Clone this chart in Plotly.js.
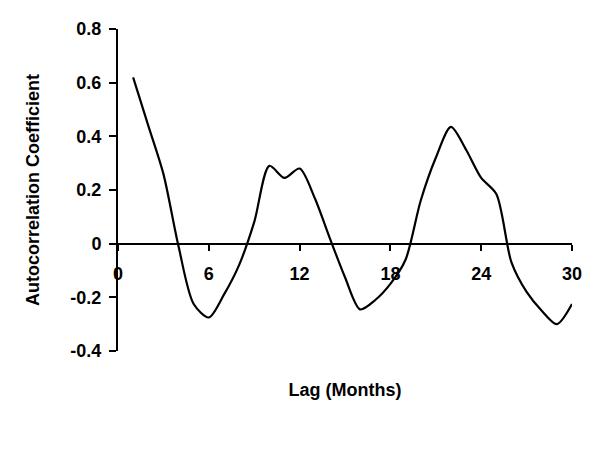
<!DOCTYPE html>
<html>
<head>
<meta charset="utf-8">
<script src="https://cdn.plot.ly/plotly-3.0.1.min.js"></script>
<style>html,body{margin:0;padding:0;background:#fff;}#chart{width:600px;height:450px;}</style>
</head>
<body>
<div id="chart"></div>
<script>
const lags = [1,2,3,4,5,6,7,8,9,10,11,12,13,14,15,16,17,18,19,20,21,22,23,24,25,26,27,28,29,30];
const acf = [0.62,0.44,0.26,-0.01,-0.225,-0.275,-0.19,-0.08,0.08,0.29,0.245,0.28,0.17,0.02,-0.125,-0.245,-0.21,-0.15,-0.06,0.16,0.32,0.435,0.35,0.245,0.185,-0.07,-0.18,-0.25,-0.30,-0.225];
const xTickVals = [0,6,12,18,24,30];
const xTickText = ['0','6','12','18','24','30'];
const yTickVals = [-0.4,-0.2,0,0.2,0.4,0.6,0.8];
const yTickText = ['-0.4','-0.2','0','0.2','0.4','0.6','0.8'];

const fnt = {family:'Arial, "Liberation Sans", sans-serif', size:18, color:'#000', weight:'bold'};

const trace = {
  x: lags, y: acf, type:'scatter', mode:'lines',
  line:{color:'#000', width:2.2, shape:'spline', smoothing:0.8},
  hoverinfo:'skip', showlegend:false
};

const layout = {
  width:600, height:450,
  margin:{l:118, r:28, t:29, b:99},
  paper_bgcolor:'#fff', plot_bgcolor:'#fff',
  showlegend:false,
  xaxis:{
    range:[0,30], tickvals:xTickVals, ticktext:xTickText,
    showgrid:false, zeroline:false, showline:true, linecolor:'#000', linewidth:2,
    ticks:'outside', ticklen:6, tickwidth:2, tickcolor:'#000',
    tickfont:fnt, ticklabelstandoff:8,
    anchor:'free', position:1/3,
    title:{text:'Lag (Months)', font:fnt, standoff:99},
    automargin:false, fixedrange:true
  },
  yaxis:{
    range:[-0.4,0.8], tickvals:yTickVals, ticktext:yTickText,
    showgrid:false, zeroline:false, showline:true, linecolor:'#000', linewidth:2,
    ticks:'outside', ticklen:7, tickwidth:2, tickcolor:'#000',
    tickfont:fnt, ticklabelstandoff:4,
    title:{text:'Autocorrelation Coefficient', font:fnt, standoff:26},
    automargin:false, fixedrange:true
  }
};

Plotly.newPlot('chart', [trace], layout, {staticPlot:true, displayModeBar:false});
</script>
</body>
</html>
